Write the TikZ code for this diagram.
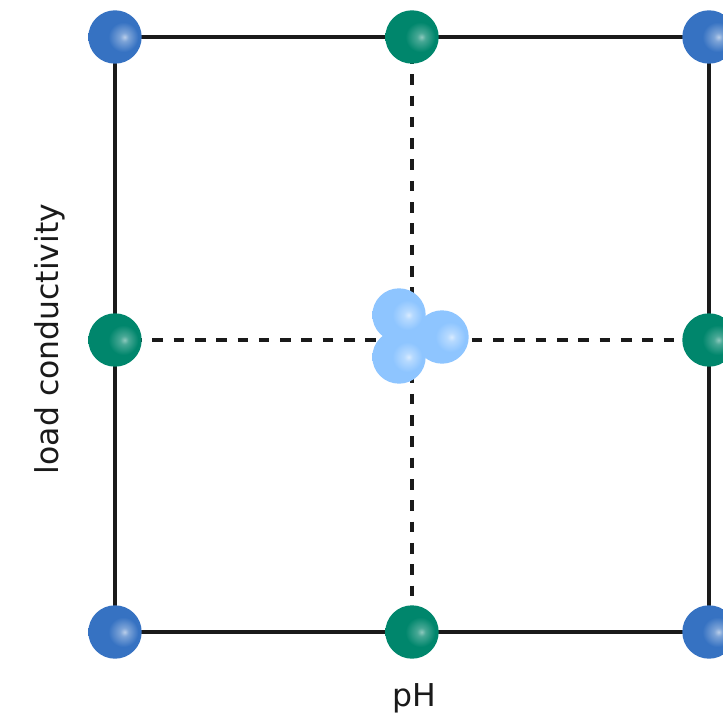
\documentclass[tikz,border=0pt]{standalone}
\usepackage{fontspec}
\setmainfont{DejaVu Sans}

\definecolor{ballblue}{RGB}{54,114,194}
\definecolor{ballgreen}{RGB}{0,134,108}
\definecolor{balllight}{RGB}{142,197,255}
\definecolor{edgeblack}{RGB}{26,26,26}

% sphere shadings, highlight a bit right of the centre
\pgfdeclareradialshading{blueshade}{\pgfpoint{9bp}{0bp}}{color(0bp)=(white!65!ballblue); color(4bp)=(white!35!ballblue); color(14bp)=(ballblue); color(100bp)=(ballblue)}
\pgfdeclareradialshading{greenshade}{\pgfpoint{9bp}{0bp}}{color(0bp)=(white!55!ballgreen); color(4bp)=(white!28!ballgreen); color(14bp)=(ballgreen); color(100bp)=(ballgreen)}
\pgfdeclareradialshading{lightshade}{\pgfpoint{9bp}{0bp}}{color(0bp)=(white!65!balllight); color(4bp)=(white!35!balllight); color(14bp)=(balllight); color(100bp)=(balllight)}

\begin{document}
\begin{tikzpicture}[x=1pt, y=-1pt,
  edge/.style={line width=4pt, draw=edgeblack},
  guide/.style={line width=4pt, draw=edgeblack, dash pattern=on 10.6pt off 10.7pt, dash phase=5.3pt},
  ball/.style={circle, inner sep=0pt, minimum size=53.4pt, shade},
  blueball/.style={ball, shading=blueshade},
  greenball/.style={ball, shading=greenshade},
  lightball/.style={ball, shading=lightshade},
  axistext/.style={font=\fontsize{31.5}{38}\selectfont, text=edgeblack, inner sep=0pt}]
  \useasboundingbox (0,0) rectangle (723,714);
  \clip (0,0) rectangle (723,714);

  % Grid points
  \coordinate (tl) at (115,37);
  \coordinate (tm) at (412,37);
  \coordinate (tr) at (709,37);
  \coordinate (ml) at (115,340);
  \coordinate (mr) at (709,340);
  \coordinate (bl) at (115,632);
  \coordinate (bm) at (412,632);
  \coordinate (br) at (709,632);

  % Frame and centre lines
  \draw[edge] (tl) -- (tr) -- (br) -- (bl) -- cycle;
  \draw[guide] (tm) -- (bm);
  \draw[guide] (ml) -- (mr);

  % Corner points
  \node[blueball] (tlball) at (tl) {};
  \node[blueball] (trball) at (tr) {};
  \node[blueball] (blball) at (bl) {};
  \node[blueball] (brball) at (br) {};

  % Edge midpoints
  \node[greenball] (tmball) at (tm) {};
  \node[greenball] (mlball) at (ml) {};
  \node[greenball] (mrball) at (mr) {};
  \node[greenball] (bmball) at (bm) {};

  % Centre points
  \node[lightball] (cright) at (442,337) {};
  \node[lightball] (ctop) at (399,315) {};
  \node[lightball] (cbottom) at (399,357) {};

  % Axis labels
  \node[axistext, rotate=90, anchor=base] (ylabel) at (58,339) {load conductivity};
  \node[axistext, anchor=base] (xlabel) at (414,706) {pH};
\end{tikzpicture}
\end{document}
